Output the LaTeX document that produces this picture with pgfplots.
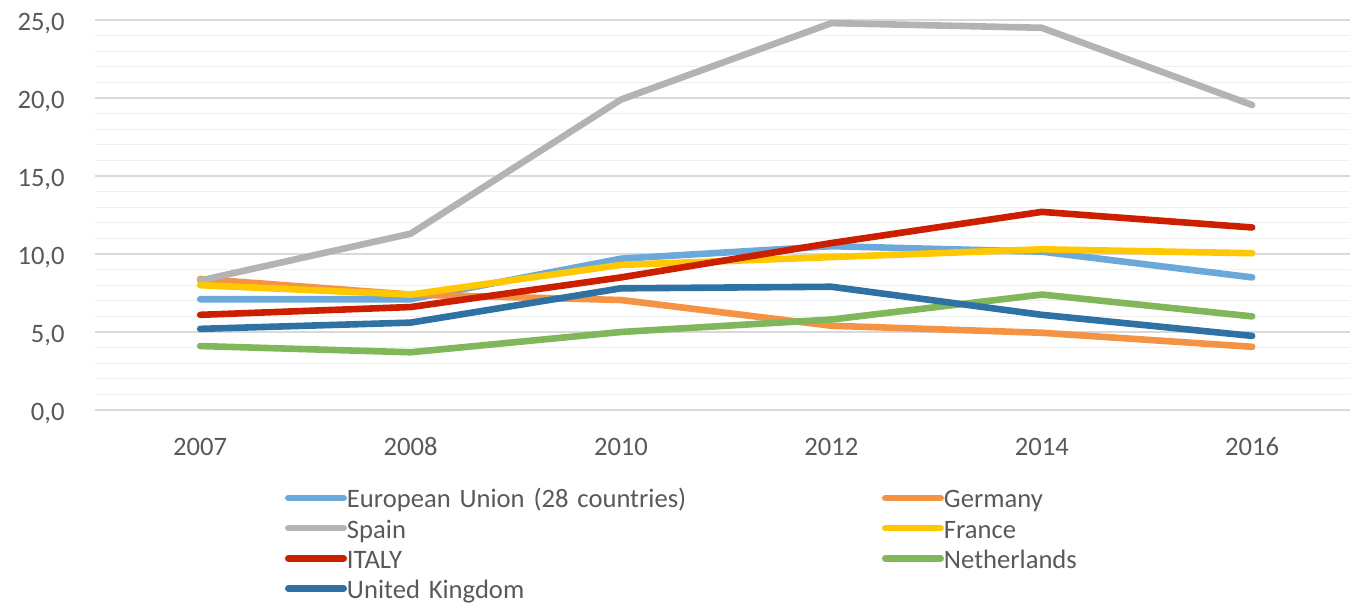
\documentclass[border=0pt]{standalone}
\usepackage{fontspec}
\setmainfont{Carlito}
\usepackage{pgfplots}
\pgfplotsset{compat=1.18}

\definecolor{txt}{HTML}{595959}
\definecolor{majgrid}{HTML}{D9D9D9}
\definecolor{mingrid}{HTML}{F0F0F0}
\definecolor{cEU}{HTML}{6CA9DB}
\definecolor{cDE}{HTML}{F39343}
\definecolor{cES}{HTML}{B3B3B3}
\definecolor{cFR}{HTML}{FFC800}
\definecolor{cIT}{HTML}{CC1F00}
\definecolor{cNL}{HTML}{80B75B}
\definecolor{cUK}{HTML}{2E72A4}

\newcommand{\chartfont}{\fontsize{13.3}{15}\selectfont}

\begin{document}
\begin{tikzpicture}
\useasboundingbox (-47.5pt,-96.5pt) rectangle (627.5pt,205pt);
\begin{axis}[
    scale only axis,
    width=627.5pt, height=195pt,
    xmin=-0.5, xmax=5.465,
    ymin=0, ymax=25,
    xtick={0,...,5},
    xticklabels={2007,2008,2010,2012,2014,2016},
    ytick={0,5,...,25},
    minor y tick num=4,
    ymajorgrids, yminorgrids,
    major grid style={draw=majgrid, line width=0.6pt},
    minor grid style={draw=mingrid, line width=0.6pt},
    axis line style={draw=none},
    major tick length=0pt, minor tick length=0pt,
    tick style={draw=none},
    /pgf/number format/.cd, fixed, fixed zerofill, precision=1, use comma, assume math mode=true,
    /pgfplots/.cd,
    ticklabel style={font=\chartfont, text=txt, inner sep=0pt},
    yticklabel style={anchor=base east, xshift=-15pt, yshift=-5.2pt},
    xticklabel style={anchor=base, yshift=-23pt},
    every axis plot/.append style={line width=3.3pt, line cap=round, line join=round},
    legend image code/.code={
        \path[draw=none, fill=none] (0pt,0pt) -- (27pt,0pt);
        \draw[#1] (1.65pt,2pt) -- (29.35pt,2pt);
    },
    legend columns=2,
    legend cell align=left,
    legend style={
        at={(axis description cs:0,0)}, anchor=north west,
        xshift=95pt, yshift=-40pt,
        draw=none, fill=none, inner sep=0pt, outer sep=0pt,
        column sep=0pt, row sep=3.1pt,
        nodes={inner sep=0pt, text height=9pt, text depth=3pt, font=\chartfont, text=txt},
        /tikz/every even column/.append style={text width=267.5pt, align=left},
    },
]
\addplot[cEU] coordinates {(0,7.1) (1,7.1) (2,9.7) (3,10.5) (4,10.15) (5,8.5)};
\addlegendentry{European Union (28 countries)}
\addplot[cDE] coordinates {(0,8.4) (1,7.4) (2,7.05) (3,5.4) (4,4.95) (5,4.05)};
\addlegendentry{Germany}
\addplot[cES] coordinates {(0,8.3) (1,11.3) (2,19.9) (3,24.8) (4,24.5) (5,19.55)};
\addlegendentry{Spain}
\addplot[cFR] coordinates {(0,8.0) (1,7.4) (2,9.3) (3,9.8) (4,10.3) (5,10.05)};
\addlegendentry{France}
\addplot[cIT] coordinates {(0,6.1) (1,6.6) (2,8.5) (3,10.7) (4,12.7) (5,11.7)};
\addlegendentry{ITALY}
\addplot[cNL] coordinates {(0,4.1) (1,3.7) (2,5.0) (3,5.8) (4,7.4) (5,6.0)};
\addlegendentry{Netherlands}
\addplot[cUK] coordinates {(0,5.2) (1,5.6) (2,7.8) (3,7.9) (4,6.1) (5,4.75)};
\addlegendentry{United Kingdom}
\end{axis}
\end{tikzpicture}
\end{document}
